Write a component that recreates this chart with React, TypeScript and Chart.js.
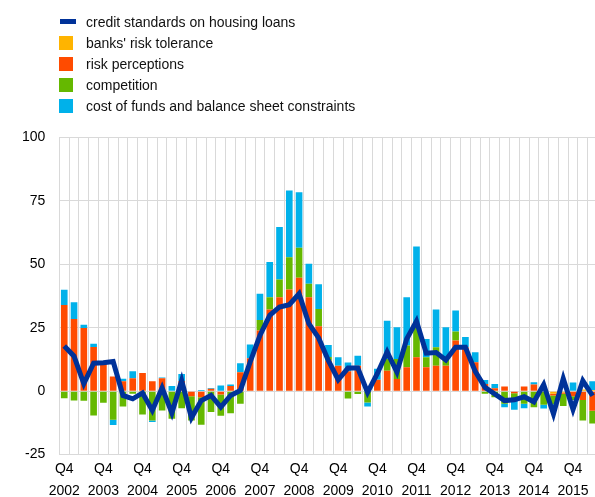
import React, { useEffect, useRef } from "react";
import { Chart, registerables } from "chart.js";

Chart.register(...registerables);

const quarters: string[] = [
  "Q4 2002",
  "Q1 2003", "Q2 2003", "Q3 2003", "Q4 2003",
  "Q1 2004", "Q2 2004", "Q3 2004", "Q4 2004",
  "Q1 2005", "Q2 2005", "Q3 2005", "Q4 2005",
  "Q1 2006", "Q2 2006", "Q3 2006", "Q4 2006",
  "Q1 2007", "Q2 2007", "Q3 2007", "Q4 2007",
  "Q1 2008", "Q2 2008", "Q3 2008", "Q4 2008",
  "Q1 2009", "Q2 2009", "Q3 2009", "Q4 2009",
  "Q1 2010", "Q2 2010", "Q3 2010", "Q4 2010",
  "Q1 2011", "Q2 2011", "Q3 2011", "Q4 2011",
  "Q1 2012", "Q2 2012", "Q3 2012", "Q4 2012",
  "Q1 2013", "Q2 2013", "Q3 2013", "Q4 2013",
  "Q1 2014", "Q2 2014", "Q3 2014", "Q4 2014",
  "Q1 2015", "Q2 2015", "Q3 2015", "Q4 2015",
  "Q1 2016", "Q2 2016",
];

const creditStandards: number[] = [
  17.8, 13.8, 2.9, 11, 11.2, 11.7, -1.7, -3, -0.7, -7.6,
  1.3, -8.6, 4.2, -10.5, -3.7, -1.7, -6.3, -1.7, 0.3, 11.5,
  22, 29.9, 33.2, 34.1, 38.4, 26.6, 21, 12, 4.5, 9.1,
  9.1, -0.5, 7, 15.5, 7.5, 20.6, 27.6, 15, 15.2, 12.3,
  17.3, 17.3, 7.8, 1.5, -1.1, -3.7, -3.4, -2.2, -4.2, 2.6,
  -9, 5, -7.2, 4.1, -1.8,
];

const riskTolerance: number[] = [
  0, 0, 0, 0, 0, 0, 0, 0, 0, 0,
  0, 0, 0, 0, 0, 0, 0, 0, 0, 0,
  0, 0, 0, 0, 0, 0, 0, 0, 0, 0,
  0, 0, 0, 0, 0, 0, 0, 0, 0, 0,
  0, 0, 0, 0, 0, 0, 0, 0, 0, 0,
  -1, -0.5, 0, 0.7, 0.5,
];

const riskPerceptions: number[] = [
  34, 28.5, 24.9, 17.4, 11, 5.8, 3.9, 5.1, 7.2, 3.9,
  5.1, 0, 4, -2, -2.4, 1, -1.3, 2, 7.5, 13,
  23.9, 32.2, 37, 40.1, 44.7, 37, 25.6, 12, 10, 7.9,
  10, 0.5, 4.5, 8.1, 4.8, 9.4, 13.4, 9.4, 10, 10,
  20, 17.3, 11.4, 2.8, 1.2, 1.8, -0.8, 1.8, 2.6, 0,
  -0.7, -0.5, -2, -3.5, -7.7,
];

const competition: number[] = [
  -2.8, -3.7, -3.8, -9.6, -4.6, -11.3, -6, -1, -9.2, -11.6,
  -7.6, -10.9, -6.7, -9.6, -10.8, -8.2, -8.4, -8.7, -5, 0,
  4.2, 4.8, 7, 12.7, 11.8, 5.3, 6.8, 1.5, 0, -2.9,
  -1.1, -4.5, 0, 4.6, 7.9, 8.6, 13.1, 4, 7.3, 3.4,
  3.5, 0, 0, -1, -2.4, -5, -2.2, -5, -6.3, -5.3,
  -3.5, -4.8, -1.5, -8.1, -5,
];

const costOfFunds: number[] = [
  6, 6.6, 1.3, 1.3, 0, -2, 1, 2.8, 0, -0.5,
  0.3, 2, 2.8, 0, 0.5, 0.3, 2.2, 0.6, 3.5, 5.4,
  10.3, 13.9, 20.7, 26.3, 21.9, 7.9, 9.8, 4.7, 3.4, 3.4,
  4, -1.5, 4.3, 15.1, 12.5, 19, 30.5, 7.2, 14.9, 11.8,
  8.3, 4.1, 3.9, 1.6, 1.6, -1.3, -4.3, -1.7, 0.9, -1.5,
  -1, 0, 3.4, 0, 3.4,
];

const yTicks: number[] = [-25, 0, 25, 50, 75, 100];

const COLORS = {
  line: "#003299",
  tolerance: "#FFB400",
  perceptions: "#FF4B00",
  competition: "#65B800",
  funds: "#00B1EA",
};

const legendItems = [
  { label: "credit standards on housing loans", color: COLORS.line, kind: "line" },
  { label: "banks' risk tolerance", color: COLORS.tolerance, kind: "box" },
  { label: "risk perceptions", color: COLORS.perceptions, kind: "box" },
  { label: "competition", color: COLORS.competition, kind: "box" },
  { label: "cost of funds and balance sheet constraints", color: COLORS.funds, kind: "box" },
];

const FONT = "Arial, 'Liberation Sans', Helvetica, sans-serif";

export default function App() {
  const canvasRef = useRef<HTMLCanvasElement | null>(null);

  useEffect(() => {
    const canvas = canvasRef.current;
    if (!canvas) return;
    const barCommon = {
      type: "bar" as const,
      stack: "bars",
      order: 1,
      barPercentage: 0.68,
      categoryPercentage: 1,
      borderWidth: 0,
    };
    const chart = new Chart(canvas, {
      type: "bar",
      data: {
        labels: quarters,
        datasets: [
          {
            type: "line",
            label: "credit standards on housing loans",
            data: creditStandards,
            borderColor: COLORS.line,
            backgroundColor: COLORS.line,
            borderWidth: 5,
            pointRadius: 0,
            tension: 0,
            stack: "line",
            order: 0,
          } as any,
          { ...barCommon, label: "banks' risk tolerance", data: riskTolerance, backgroundColor: COLORS.tolerance },
          { ...barCommon, label: "risk perceptions", data: riskPerceptions, backgroundColor: COLORS.perceptions },
          { ...barCommon, label: "competition", data: competition, backgroundColor: COLORS.competition },
          { ...barCommon, label: "cost of funds and balance sheet constraints", data: costOfFunds, backgroundColor: COLORS.funds },
        ],
      },
      options: {
        responsive: false,
        animation: false,
        devicePixelRatio: 1,
        layout: { padding: { top: 137.5, left: 8, right: 2.5, bottom: 0 } },
        plugins: {
          legend: { display: false },
          tooltip: { enabled: false },
        },
        scales: {
          x: {
            stacked: true,
            offset: true,
            grid: { color: "#d9d9d9", lineWidth: 1, offset: true, drawTicks: false },
            border: { display: false },
            ticks: {
              autoSkip: false,
              maxRotation: 0,
              minRotation: 0,
              padding: 4,
              color: "#000",
              font: { family: FONT, size: 14, lineHeight: 1.55 },
              callback: (_v: any, i: number) => {
                const q = quarters[i];
                if (q && q.startsWith("Q4")) return ["Q4", q.slice(3)];
                return "";
              },
            },
          },
          y: {
            stacked: true,
            min: yTicks[0],
            max: yTicks[yTicks.length - 1],
            afterBuildTicks: (axis: any) => {
              axis.ticks = yTicks.map((v) => ({ value: v }));
            },
            grid: { color: "#d9d9d9", lineWidth: 1, drawTicks: false },
            border: { display: false },
            ticks: {
              padding: 14,
              color: "#000",
              font: { family: FONT, size: 14 },
            },
          },
        },
      },
    });
    return () => chart.destroy();
  }, []);

  return (
    <div
      style={{
        position: "absolute",
        left: 0,
        top: 0,
        width: 595,
        height: 497,
        overflow: "hidden",
        background: "#fff",
        fontFamily: FONT,
      }}
    >
      <canvas
        ref={canvasRef}
        width={600}
        height={506}
        style={{ position: "absolute", left: 0, top: 0, width: 600, height: 506 }}
      />
      <div style={{ position: "absolute", left: 59, top: 11 }}>
        {legendItems.map((it) => (
          <div
            key={it.label}
            style={{ display: "flex", alignItems: "center", height: 21.2, whiteSpace: "nowrap" }}
          >
            <span style={{ width: 27, display: "inline-flex", alignItems: "center" }}>
              {it.kind === "line" ? (
                <span style={{ display: "inline-block", width: 16, height: 5, marginLeft: 1, background: it.color }} />
              ) : (
                <span style={{ display: "inline-block", width: 14, height: 14, background: it.color }} />
              )}
            </span>
            <span style={{ fontSize: 14, color: "#111", lineHeight: "16px" }}>{it.label}</span>
          </div>
        ))}
      </div>
    </div>
  );
}
